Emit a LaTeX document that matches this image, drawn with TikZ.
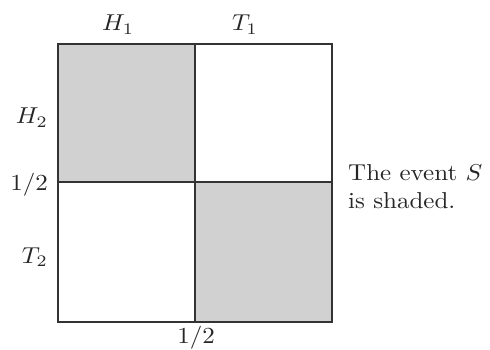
\documentclass[tikz,border=0pt]{standalone}
\newcommand{\bigtxt}[1]{\scalebox{2.5}[2.3]{#1}}
\begin{document}
\begin{tikzpicture}[x=1pt,y=-1pt,
  lbl/.style={inner sep=0pt, anchor=base, text=black!85},
  cell/.style={line width=1.4pt, draw=black!80},
  shade/.style={fill=black!18}]
\useasboundingbox (0,0) rectangle (490,350);
\fill[shade] (58,44) rectangle (195,182);
\fill[shade] (195,182) rectangle (332,322);
\draw[cell] (58,44) rectangle (332,322);
\draw[cell] (195,44) -- (195,322);
\draw[cell] (58,182) -- (332,182);
\node[lbl] (h1) at (118,31) {\bigtxt{$H_1$}};
\node[lbl] (t1) at (245,31) {\bigtxt{$T_1$}};
\node[lbl, anchor=base east] (h2) at (48,124) {\bigtxt{$H_2$}};
\node[lbl, anchor=base east] (t2) at (48,263) {\bigtxt{$T_2$}};
\node[lbl, anchor=base east] (hl) at (48,190) {\bigtxt{$1/2$}};
\node[lbl] (hb) at (196,343) {\bigtxt{$1/2$}};
\node[lbl, anchor=base west] (s1) at (348,181) {\bigtxt{The event $S$}};
\node[lbl, anchor=base west] (s2) at (348,208) {\bigtxt{is shaded.}};
\end{tikzpicture}
\end{document}
